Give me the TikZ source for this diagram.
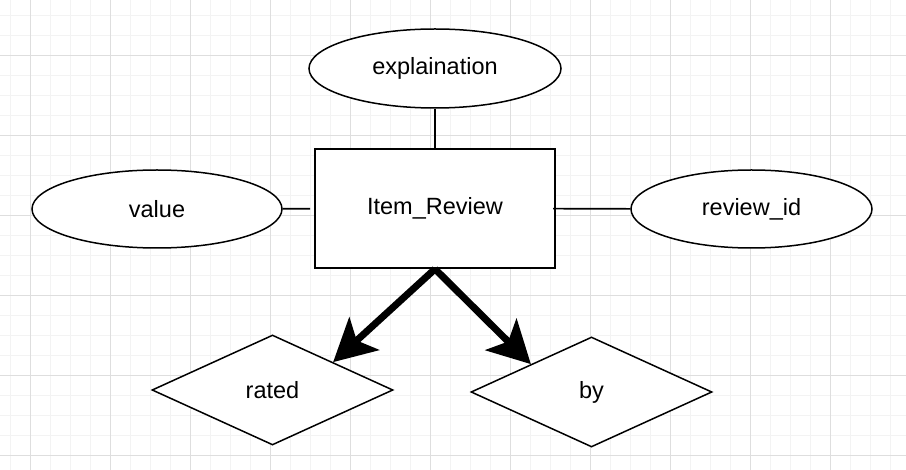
\documentclass[tikz,border=0pt]{standalone}
\usepackage{fontspec}
\setmainfont{Liberation Sans}
\usetikzlibrary{shapes.geometric,arrows.meta}
\definecolor{minorgrid}{HTML}{F3F3F3}
\definecolor{majorgrid}{HTML}{DEDEDE}
\begin{document}
\begin{tikzpicture}[x=1pt,y=-1pt,
    attr/.style={ellipse,draw,line width=1.5pt,fill=white,inner sep=0pt},
    entity/.style={rectangle,draw,line width=2pt,fill=white,minimum width=240pt,minimum height=119pt},
    relation/.style={diamond,draw,line width=1.5pt,fill=white,inner sep=0pt,aspect=2.19,minimum width=241pt,minimum height=110pt},
    link/.style={line width=1.6pt},
    bigarrow/.style={line width=7pt,-{Stealth[length=42pt,width=44pt,inset=10pt]}},
    font=\fontsize{23.5}{28}\selectfont]
    \useasboundingbox (0,0) rectangle (906,470);
    \fill[white] (0,0) rectangle (906,470);

    % Grid
    \foreach \x in {10,30,...,900} \draw[minorgrid,line width=1pt] (\x,0) -- (\x,470);
    \foreach \y in {16,36,...,466} \draw[minorgrid,line width=1pt] (0,\y) -- (906,\y);
    \foreach \x in {30,110,...,900} \draw[majorgrid,line width=1pt] (\x,0) -- (\x,470);
    \foreach \y in {56,136,...,466} \draw[majorgrid,line width=1pt] (0,\y) -- (906,\y);

    % Entity
    \node[entity] (review) at (435,208.5) {Item\_Review};

    % Attributes
    \node[attr,minimum width=252pt,minimum height=79pt] (expl) at (435,68.5) {explaination};
    \node[attr,minimum width=250pt,minimum height=78pt] (value) at (157,209) {value};
    \node[attr,minimum width=241pt,minimum height=78pt] (rid) at (751.5,209) {review\_id};

    % Relationships
    \node[relation] (rated) at (272.5,390) {rated};
    \node[relation] (by) at (591.5,392) {by};

    % Attribute links
    \draw[link] (expl) -- (review);
    \draw[link,shorten >=4pt] (value) -- (review);
    \draw[link,shorten <=-3pt] (review) -- (rid);

    % Relationship arrows
    \draw[bigarrow] (review.south) -- (rated.north east);
    \draw[bigarrow] (review.south) -- (by.north west);
\end{tikzpicture}
\end{document}
